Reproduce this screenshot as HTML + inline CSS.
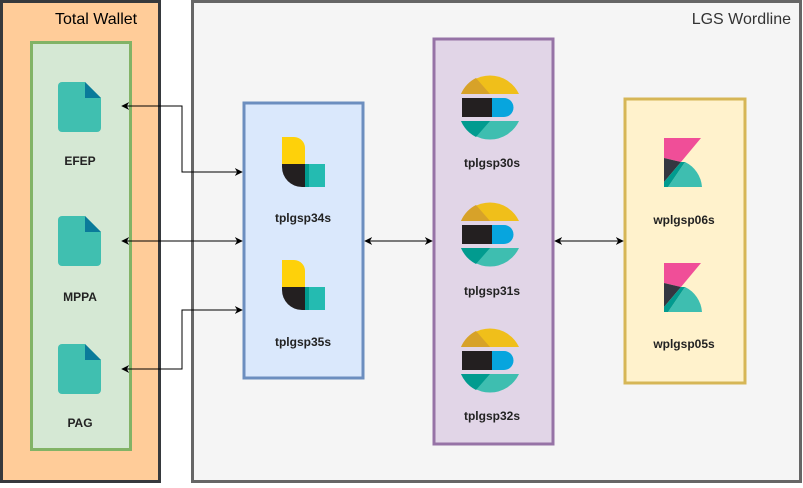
<!DOCTYPE html>
<html><head><meta charset="utf-8"><style>
body{margin:0;width:803px;height:483px;overflow:hidden;background:#fff;font-family:"Liberation Sans",sans-serif}
</style></head><body>
<svg width="803" height="483" xmlns="http://www.w3.org/2000/svg" font-family="Liberation Sans, sans-serif">
<defs>
<marker id="a" viewBox="0 0 10 10" refX="9" refY="5" markerWidth="8" markerHeight="8" orient="auto-start-reverse" markerUnits="userSpaceOnUse"><path d="M0,0L10,5L0,10L3,5z" fill="#000"/></marker>
<g id="file"><path d="M4,0H27L43,16V46a4,4 0 0 1-4,4H4a4,4 0 0 1-4-4V4a4,4 0 0 1 4-4z" fill="#40bfb0"/><path d="M27,0L43,16H27z" fill="#0a7a9a"/></g>
<g id="beat"><path d="M0,0H12a11,11 0 0 1 11,11V27H0z" fill="#fed10a"/><path d="M0,27H23V50H20A20,20 0 0 1 0,30z" fill="#231f20"/><rect x="23" y="27" width="20" height="23" fill="#24bbb1"/><rect x="23" y="27" width="4" height="23" fill="#019b8f"/></g>
<g id="es"><path d="M-29,-13A32,32 0 0 1 29,-13z" fill="#f0bf1a"/><path d="M-29,-13A32,32 0 0 1 -14,-29L0,-13z" fill="#d7a229"/><rect x="-28" y="-9" width="30" height="19" fill="#231f20"/><path d="M2,-9H14a9.5,9.5 0 0 1 0,19H2z" fill="#07a5de"/><path d="M-29,14A32,32 0 0 0 29,14z" fill="#3ebeb0"/><path d="M-29,14A32,32 0 0 0 -14,30L0,14z" fill="#019b8f"/></g>
<g id="kb"><path d="M0,0H37L17,24L0,20z" fill="#f04e98"/><path d="M0,20L17,24L0,44z" fill="#343741"/><path d="M4,49L21,24A30,30 0 0 1 38,49z" fill="#3ebeb0"/><path d="M0,44L17,24L21,24L4,49H0z" fill="#019b8f"/></g>
</defs>
<rect x="1.5" y="1.5" width="158" height="480" fill="#ffcc99" stroke="#36393d" stroke-width="3"/>
<text x="55" y="24" font-size="16" fill="#000">Total Wallet</text>
<rect x="31.5" y="42.5" width="99" height="407" fill="#d5e8d4" stroke="#82b366" stroke-width="3"/>
<rect x="192.5" y="1.5" width="608" height="480" fill="#f5f5f5" stroke="#666" stroke-width="3"/>
<text x="791" y="24" font-size="16" fill="#333" text-anchor="end">LGS Wordline</text>
<rect x="244" y="103" width="119" height="275" fill="#dae8fc" stroke="#6c8ebf" stroke-width="3"/>
<rect x="434" y="39" width="119" height="405" fill="#e1d5e7" stroke="#9673a6" stroke-width="3"/>
<rect x="625" y="99" width="120" height="284" fill="#fff2cc" stroke="#d6b656" stroke-width="3"/>
<use href="#file" x="58" y="82"/><use href="#file" x="58" y="216"/><use href="#file" x="58" y="344"/>
<g font-size="12" font-weight="bold" fill="#222" text-anchor="middle">
<text x="80" y="165">EFEP</text><text x="80" y="301">MPPA</text><text x="80" y="427">PAG</text>
<text x="303" y="222">tplgsp34s</text><text x="303" y="346">tplgsp35s</text>
<text x="492" y="167">tplgsp30s</text><text x="492" y="295">tplgsp31s</text><text x="492" y="420">tplgsp32s</text>
<text x="684" y="224">wplgsp06s</text><text x="684" y="348">wplgsp05s</text>
</g>
<use href="#beat" x="282" y="137"/><use href="#beat" x="282" y="260"/>
<use href="#es" x="490" y="107"/><use href="#es" x="490" y="234"/><use href="#es" x="490" y="360"/>
<use href="#kb" x="664" y="138"/><use href="#kb" x="664" y="263"/>
<g stroke="#000" stroke-width="1" fill="none">
<path d="M122,106H182V172H242" marker-start="url(#a)" marker-end="url(#a)"/>
<path d="M122,241H242" marker-start="url(#a)" marker-end="url(#a)"/>
<path d="M122,369H182V310H242" marker-start="url(#a)" marker-end="url(#a)"/>
<path d="M365,241H432" marker-start="url(#a)" marker-end="url(#a)"/>
<path d="M555,241H623" marker-start="url(#a)" marker-end="url(#a)"/>
</g>
</svg>
</body></html>
